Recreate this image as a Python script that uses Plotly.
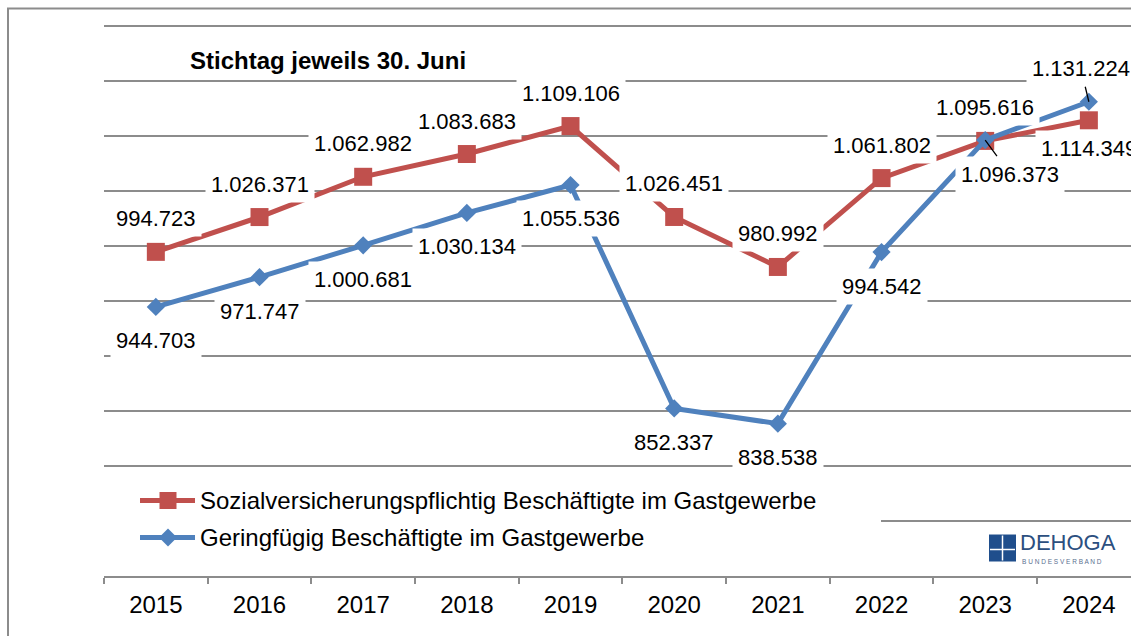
import plotly.graph_objects as go

# Beschäftigte im Gastgewerbe, Stichtag 30. Juni
years = ["2015", "2016", "2017", "2018", "2019", "2020", "2021", "2022", "2023", "2024"]
sozial = [994723, 1026371, 1062982, 1083683, 1109106, 1026451, 980992, 1061802, 1095616, 1114349]
gering = [944703, 971747, 1000681, 1030134, 1055536, 852337, 838538, 994542, 1096373, 1131224]

name_sozial = "Sozialversicherungspflichtig Beschäftigte im Gastgewerbe"
name_gering = "Geringfügig Beschäftigte im Gastgewerbe"
title_text = "Stichtag jeweils 30. Juni"

RED = "#C0504D"
BLUE = "#4F81BD"
GRID = "#8C8C8C"
FONT = "Liberation Sans, Arial, sans-serif"

W, H = 1131, 636
L, T, B = 104, 25.4, 59.5


# pixel -> paper helpers for the decorations
def px_x(x):
    return (x - L) / (W - L)


def px_y(y):
    return (H - B - y) / (H - T - B)


def fmt(v):
    return f"{v:,}".replace(",", ".")


fig = go.Figure()
fig.add_trace(go.Scatter(x=years, y=sozial, mode="lines+markers", name=name_sozial,
                         line=dict(color=RED, width=5),
                         marker=dict(symbol="square", size=18, color=RED),
                         showlegend=False))
fig.add_trace(go.Scatter(x=years, y=gering, mode="lines+markers", name=name_gering,
                         line=dict(color=BLUE, width=5),
                         marker=dict(symbol="diamond", size=14, color=BLUE),
                         showlegend=False))

# data labels (x given as category index)
lab_font = dict(family=FONT, size=22, color="black")
for i, v in enumerate(sozial):
    shift = -28 if i == len(years) - 1 else 33
    fig.add_annotation(x=i, y=v, xref="x", yref="y", text=fmt(v), yshift=shift,
                       showarrow=False, bgcolor="white", borderpad=5, font=lab_font)
for i, v in enumerate(gering):
    if i < 8:
        fig.add_annotation(x=i, y=v, xref="x", yref="y", text=fmt(v), yshift=-34,
                           showarrow=False, bgcolor="white", borderpad=5, font=lab_font)
    else:
        ax, ay = (25, 34) if i == 8 else (-8, -33)
        fig.add_annotation(x=i, y=v, xref="x", yref="y", text=fmt(v), showarrow=True,
                           ax=ax, ay=ay, arrowhead=0, arrowwidth=1.3, arrowcolor="black",
                           standoff=0, bgcolor="white", borderpad=5, font=lab_font)


def note(x, y, text, size, color="black"):
    fig.add_annotation(xref="paper", yref="paper", x=px_x(x), y=px_y(y),
                       xanchor="left", yanchor="middle", text=text, showarrow=False,
                       font=dict(family=FONT, size=size, color=color))


# title
note(188, 61, "<b>" + title_text + "</b>", 24)

shapes = []
# outer frame
shapes.append(dict(type="path", xref="paper", yref="paper",
                   path=f"M {px_x(8)},{px_y(645)} L {px_x(8)},{px_y(9)} L {px_x(1140)},{px_y(9)}",
                   line=dict(color=GRID, width=2)))
# legend box (hides grid)
shapes.append(dict(type="rect", xref="paper", yref="paper", x0=px_x(104), x1=px_x(881),
                   y0=px_y(556), y1=px_y(478), fillcolor="white", line=dict(width=0)))
# legend symbols
for yy, col in [(501, RED), (538, BLUE)]:
    shapes.append(dict(type="line", xref="paper", yref="paper", x0=px_x(140), x1=px_x(195),
                       y0=px_y(yy), y1=px_y(yy), line=dict(color=col, width=5)))
shapes.append(dict(type="rect", xref="paper", yref="paper", x0=px_x(159.5), x1=px_x(176.5),
                   y0=px_y(509.5), y1=px_y(492.5), fillcolor=RED, line=dict(width=0)))
shapes.append(dict(type="path", xref="paper", yref="paper",
                   path=f"M {px_x(168)},{px_y(529)} L {px_x(177)},{px_y(538)} "
                        f"L {px_x(168)},{px_y(547)} L {px_x(159)},{px_y(538)} Z",
                   fillcolor=BLUE, line=dict(width=0)))
# DEHOGA logo
shapes.append(dict(type="rect", xref="paper", yref="paper", x0=px_x(989), x1=px_x(1016),
                   y0=px_y(562), y1=px_y(535), fillcolor="#1F4E8C", line=dict(width=0)))
shapes.append(dict(type="line", xref="paper", yref="paper", x0=px_x(1002.5), x1=px_x(1002.5),
                   y0=px_y(561), y1=px_y(536), line=dict(color="white", width=1.5)))
shapes.append(dict(type="line", xref="paper", yref="paper", x0=px_x(990), x1=px_x(1015),
                   y0=px_y(550), y1=px_y(550), line=dict(color="white", width=1.5)))

# legend texts
note(198, 501, name_sozial, 24)
note(198, 538, name_gering, 24)
note(1018, 542.5, "DEHOGA", 22, "#2C4F80")
note(1020, 562, "B U N D E S V E R B A N D", 6.5, "#5A6F8F")

fig.update_layout(
    width=W, height=H,
    margin=dict(l=L, r=0, t=T, b=B),
    paper_bgcolor="white", plot_bgcolor="white",
    shapes=shapes,
    font=dict(family=FONT, color="black"),
)
fig.update_xaxes(type="category", range=[-0.5, -0.5 + (W - L) / 103.67],
                 showline=True, linecolor=GRID, linewidth=2,
                 ticks="outside", tickson="boundaries", ticklen=6, tickwidth=2, tickcolor=GRID,
                 ticklabelstandoff=6, tickfont=dict(family=FONT, size=24, color="black"),
                 showgrid=False)
fig.update_yaxes(range=[700000, 1201000], dtick=50000, showticklabels=False,
                 showgrid=True, gridcolor=GRID, gridwidth=2, zeroline=False)

# drop the default page margin so the chart sits at the window origin
fig.write_html("out.html", config={"displayModeBar": False},
               post_script="document.body.style.margin='0';")
